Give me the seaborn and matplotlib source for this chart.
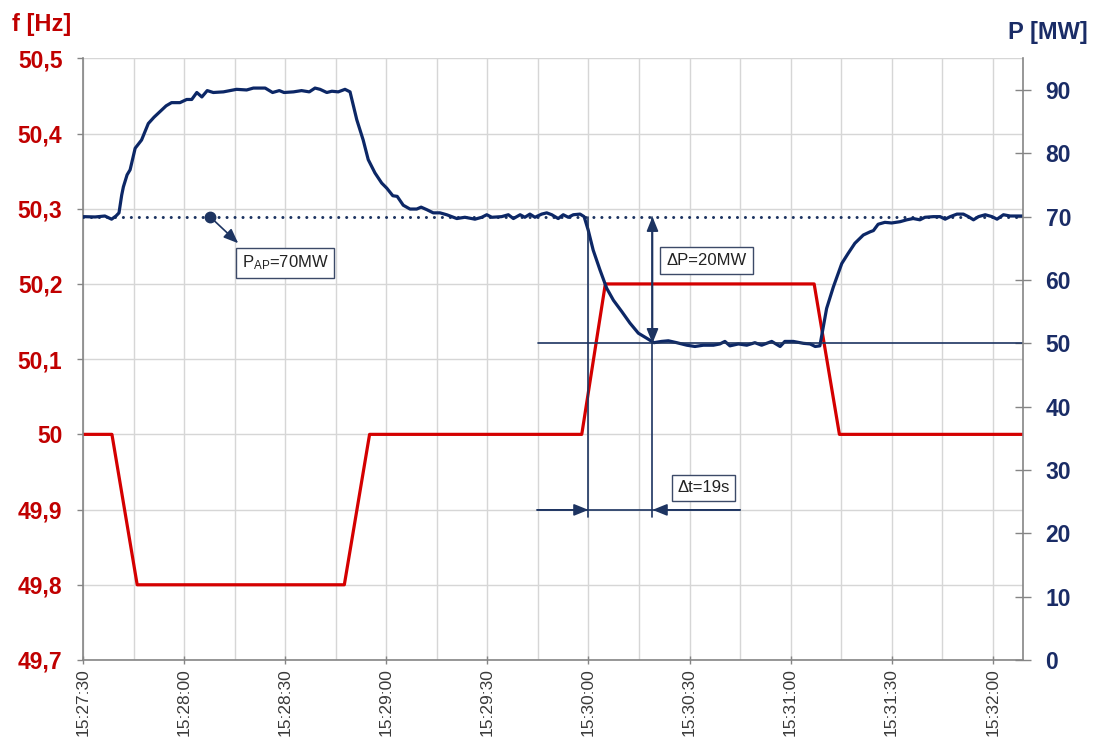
import matplotlib
matplotlib.use("Agg")
import matplotlib.pyplot as plt
import numpy as np
import pandas as pd
import seaborn as sns

# Time is given in seconds after 15:27:30
freq_t = [0, 8.5, 16, 77.5, 85, 148, 155, 217, 224.5, 279.1]
freq_hz = [50.0, 50.0, 49.8, 49.8, 50.0, 50.0, 50.2, 50.2, 50.0, 50.0]

power_t = [
    0, 3.5, 6.4, 8.4, 9.7, 10.6, 11.4, 11.9, 13.0, 13.9,
    15.4, 17.3, 19.3, 21.0, 22.8, 24.6, 26.2, 28.7, 30.7, 32.2,
    33.7, 35.2, 36.8, 38.6, 41.6, 45.5, 48.5, 50.5, 54.0, 56.2,
    58.2, 59.6, 62.4, 64.8, 67.1, 68.8, 70.3, 72.3, 73.8, 75.7,
    77.7, 79.2, 81.2, 83.1, 84.6, 86.6, 88.6, 90.1, 91.9, 93.2,
    95.0, 97.0, 99.0, 100.3, 102.0, 103.9, 105.9, 107.9, 110.9, 113.3,
    116.3, 118.3, 119.8, 121.3, 124.2, 126.2, 127.7, 129.7, 131.1, 132.6,
    134.1, 136.1, 137.6, 139.1, 141.0, 142.5, 144.0, 145.5, 147.5, 148.7,
    149.9, 151.4, 153.4, 155.4, 157.4, 159.9, 162.3, 164.8, 167.3, 169.4,
    171.7, 173.7, 176.2, 179.2, 181.6, 184.1, 187.1, 189.0, 190.5, 192.0,
    194.5, 197.0, 199.4, 201.4, 204.4, 206.9, 208.3, 210.8, 213.8, 215.8,
    217.3, 218.7, 219.7, 220.7, 222.7, 225.2, 227.1, 229.1, 231.6, 233.6,
    234.6, 236.0, 238.0, 240.0, 242.5, 244.5, 246.4, 248.4, 249.9, 252.4,
    254.4, 255.9, 257.4, 259.4, 261.3, 262.8, 264.3, 265.8, 267.8, 269.8,
    271.3, 273.2, 275.2, 279.1,
]
power_mw = [
    70.0, 69.95, 70.1, 69.6, 70.1, 70.6, 73.4, 74.7, 76.6, 77.4,
    80.8, 82.1, 84.7, 85.7, 86.6, 87.5, 88.0, 88.0, 88.5, 88.5,
    89.6, 88.9, 89.9, 89.6, 89.7, 90.1, 90.0, 90.3, 90.3, 89.6,
    89.9, 89.6, 89.7, 89.9, 89.7, 90.3, 90.1, 89.6, 89.8, 89.7,
    90.1, 89.7, 85.3, 82.1, 79.0, 76.9, 75.3, 74.5, 73.3, 73.2,
    71.8, 71.2, 71.2, 71.5, 71.1, 70.6, 70.6, 70.3, 69.7, 69.9,
    69.6, 69.9, 70.3, 69.9, 70.0, 70.3, 69.7, 70.3, 69.9, 70.4,
    69.9, 70.4, 70.6, 70.3, 69.7, 70.3, 69.9, 70.3, 70.4, 70.0,
    67.9, 64.7, 61.6, 58.7, 56.8, 55.0, 53.2, 51.6, 50.8, 50.1,
    50.3, 50.4, 50.1, 49.7, 49.5, 49.7, 49.7, 49.9, 50.3, 49.6,
    49.9, 49.7, 50.1, 49.7, 50.3, 49.5, 50.3, 50.3, 50.0, 49.9,
    49.5, 49.6, 52.6, 55.5, 58.9, 62.6, 64.2, 65.8, 67.1, 67.6,
    67.8, 68.8, 69.1, 69.0, 69.2, 69.5, 69.7, 69.5, 69.9, 70.0,
    70.0, 69.6, 70.0, 70.4, 70.4, 70.0, 69.5, 70.0, 70.3, 70.0,
    69.6, 70.3, 70.1, 70.1,
]

time_ticks = [0, 30, 60, 90, 120, 150, 180, 210, 240, 270]
time_labels = ["15:27:30", "15:28:00", "15:28:30", "15:29:00", "15:29:30",
               "15:30:00", "15:30:30", "15:31:00", "15:31:30", "15:32:00"]
freq_ticks = [49.7, 49.8, 49.9, 50.0, 50.1, 50.2, 50.3, 50.4, 50.5]
freq_labels = ["49,7", "49,8", "49,9", "50", "50,1", "50,2", "50,3", "50,4", "50,5"]
power_ticks = [0, 10, 20, 30, 40, 50, 60, 70, 80, 90]

# Operating point and step response annotation values
p_ap = 70
p_after = 50
step_start = 150
step_settled = 169

sns.set_theme(style="white")
plt.rcParams["font.family"] = ["Liberation Sans", "DejaVu Sans"]
plt.rcParams["mathtext.fontset"] = "custom"
plt.rcParams["mathtext.rm"] = "Liberation Sans"
plt.rcParams["mathtext.it"] = "Liberation Sans:italic"
plt.rcParams["mathtext.bf"] = "Liberation Sans:bold"

RED = "#d40000"
RED_TXT = "#c00000"
NAVY = "#0c2766"
NAVY_TXT = "#1a2c66"
ANN = "#1d3461"
GRID = "#d6d6d6"
SPINE = "#858585"

fig = plt.figure(figsize=(10.98, 7.38), dpi=100)
ax_f = fig.add_axes([83.3 / 1098, 78 / 738, 940 / 1098, 601.7 / 738])
ax_p = ax_f.twinx()

freq_df = pd.DataFrame({"t": freq_t, "f": freq_hz})
power_df = pd.DataFrame({"t": power_t, "p": power_mw})

sns.lineplot(data=freq_df, x="t", y="f", ax=ax_f, color=RED, lw=2.3,
             estimator=None, sort=False)
sns.lineplot(data=power_df, x="t", y="p", ax=ax_p, color=NAVY, lw=2.3,
             estimator=None, sort=False)

# Axes ranges, ticks and grid
ax_f.set_xlim(0, 279.1)
ax_f.set_ylim(49.7, 50.5)
ax_p.set_ylim(0, 95)
ax_f.set_xlabel("")
ax_f.set_ylabel("")
ax_p.set_ylabel("")

ax_f.set_xticks(time_ticks, time_labels, rotation=90, color="#3a3a3a", fontsize=12.5)
ax_f.set_xticks(np.arange(0, 280, 15), minor=True)
ax_f.set_yticks(freq_ticks, freq_labels, fontweight="bold", color=RED_TXT, fontsize=16.5)
ax_p.set_yticks(power_ticks, [str(v) for v in power_ticks], fontweight="bold",
                color=NAVY_TXT, fontsize=16.5)

ax_f.set_axisbelow(True)
ax_f.grid(which="both", axis="x", color=GRID, lw=1.0)
ax_f.grid(which="major", axis="y", color=GRID, lw=1.0)
ax_p.grid(False)

ax_f.tick_params(axis="x", which="major", direction="inout", length=6, width=1,
                 color=SPINE, pad=3, bottom=True)
ax_f.tick_params(axis="x", which="minor", length=0)
ax_f.tick_params(axis="y", direction="out", length=4.5, width=1, color=SPINE,
                 pad=10.5, left=True)
ax_p.tick_params(axis="y", direction="inout", length=11, width=1, color=SPINE,
                 pad=10.5, right=True)

for side in ["top", "right"]:
    ax_f.spines[side].set_visible(False)
for side in ["top", "left", "bottom"]:
    ax_p.spines[side].set_visible(False)
for sp in [ax_f.spines["left"], ax_f.spines["bottom"], ax_p.spines["right"]]:
    sp.set_color(SPINE)
    sp.set_linewidth(1.2)

# Axis titles
fig.text(12 / 1098, 1 - 24 / 738, "f [Hz]", color=RED_TXT, fontsize=17,
         fontweight="bold", ha="left", va="center")
fig.text(1088 / 1098, 1 - 33 / 738, "P [MW]", color=NAVY_TXT, fontsize=17,
         fontweight="bold", ha="right", va="center")

# Operating point P_AP
ax_p.plot([0, 279.1], [p_ap, p_ap], color=ANN, lw=2.2,
          linestyle=(0, (0.01, 2.6)), dash_capstyle="round", zorder=1)
ax_p.plot([37.6], [p_ap], "o", color=ANN, ms=7.5, zorder=4)
head = "-|>,head_length=0.42,head_width=0.17"
arrow_kw = dict(arrowstyle=head, color=ANN, lw=1.2, mutation_scale=21,
                shrinkA=0, shrinkB=0)
ax_p.annotate("", xy=(46.0, 65.8), xytext=(37.6, p_ap), arrowprops=arrow_kw)
box_kw = dict(boxstyle="square,pad=0.33", fc="white", ec="#3c4a68", lw=1.0)
ax_p.text(60.0, 62.7, r"P$_{\mathrm{AP}}$=70MW", ha="center", va="center",
          fontsize=12, color="#222222", bbox=box_kw, zorder=5)

# Step response: reference lines and delta arrows
ax_p.plot([135, 279.1], [p_after, p_after], color=ANN, lw=1.2, zorder=2)
ax_p.plot([step_start, step_start], [p_ap, 22.6], color=ANN, lw=1.2, zorder=2)
ax_p.plot([step_settled, step_settled], [p_ap, 22.6], color=ANN, lw=1.2, zorder=2)
ax_p.annotate("", xy=(step_settled, p_ap), xytext=(step_settled, p_after),
              arrowprops=dict(arrowstyle="<|-|>,head_length=0.42,head_width=0.17",
                              color=ANN, lw=1.2, mutation_scale=21,
                              shrinkA=0, shrinkB=0))
dt_y = 23.7
ax_p.plot([134.8, 195], [dt_y, dt_y], color=ANN, lw=1.2, zorder=2)
ax_p.annotate("", xy=(step_start, dt_y), xytext=(134.8, dt_y), arrowprops=arrow_kw)
ax_p.annotate("", xy=(step_settled, dt_y), xytext=(195, dt_y), arrowprops=arrow_kw)

ax_p.text(185.0, 63.1, "ΔP=20MW", ha="center", va="center", fontsize=12,
          color="#222222", bbox=dict(box_kw, boxstyle="square,pad=0.38"), zorder=5)
ax_p.text(184.1, 27.2, "Δt=19s", ha="center", va="center", fontsize=12,
          color="#222222", bbox=dict(box_kw, boxstyle="square,pad=0.33"), zorder=5)

fig.savefig("out.png", dpi=100)
